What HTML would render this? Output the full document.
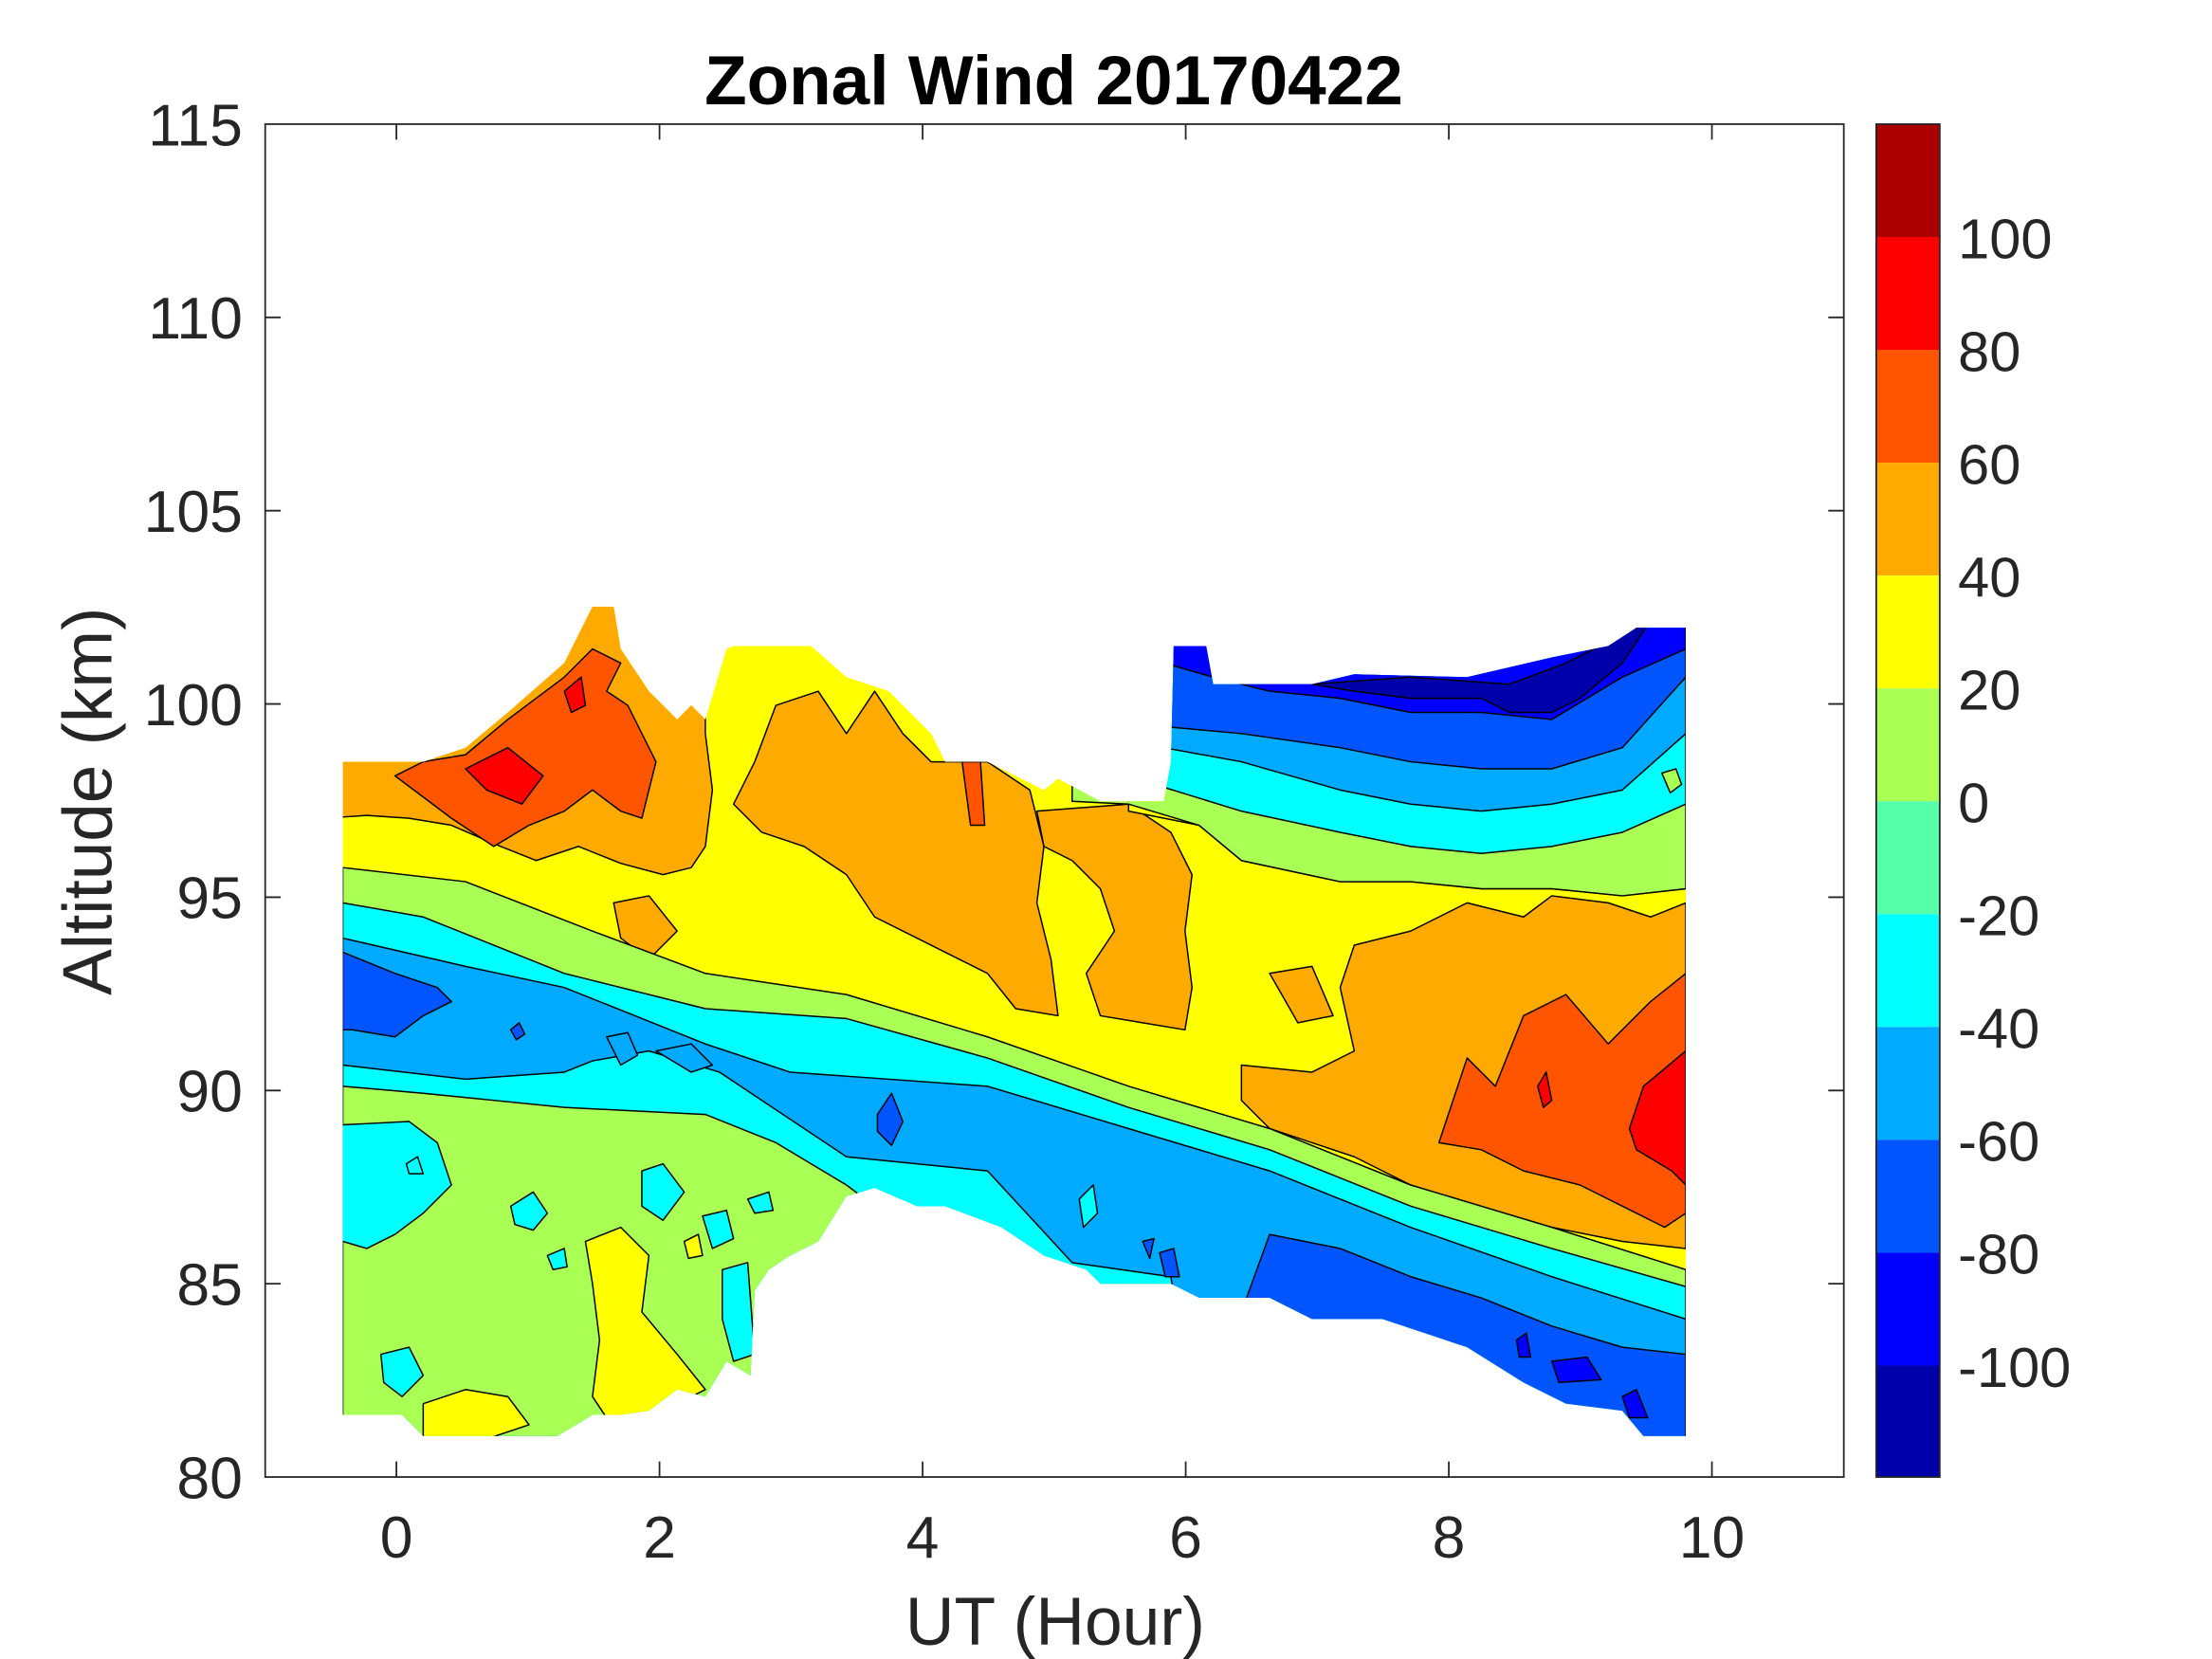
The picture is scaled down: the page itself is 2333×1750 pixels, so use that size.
<!DOCTYPE html>
<html><head><meta charset="utf-8"><style>
html,body{margin:0;padding:0;background:#fff}
svg{display:block}
text{font-family:"Liberation Sans",Arial,sans-serif;fill:#262626}
</style></head><body>
<svg width="2333" height="1750" viewBox="0 0 1568 1176" preserveAspectRatio="none" xmlns="http://www.w3.org/2000/svg">
<defs>
<clipPath id="m"><polygon points="243,540 300,540 330,530 360,505 400,470 420,430 435,430 440,460 460,490 480,510 490,500 500,510 515,460 520,458 575,458 600,480 630,490 660,520 670,540 700,540 740,560 750,552 780,568 825,568 830,540 832,458 855,458 860,485 930,485 960,478 1040,480 1100,466 1140,458 1160,445 1195,445 1195,1018 1165,1018 1150,1000 1110,995 1080,980 1040,955 1010,945 980,935 930,935 900,920 850,920 830,910 780,910 770,900 740,890 710,870 670,855 650,855 620,842 600,848 580,880 560,890 545,900 535,915 532,975 515,965 500,990 480,985 460,1000 440,1003 420,1003 395,1018 330,1018 300,1018 285,1003 243,1003"/></clipPath>
</defs>
<g clip-path="url(#m)" stroke="#000" stroke-width="1" stroke-linejoin="round">
<rect x="200" y="400" width="1050" height="700" fill="#ffff00" stroke="none"/>
<polygon fill="#ffaa00" points="230,400 500,400 500,520 505,560 500,600 490,615 470,620 440,612 410,600 380,610 350,598 320,585 290,580 260,578 230,580"/>
<polygon fill="#ff5500" points="300,540 330,535 360,510 400,480 420,460 440,470 430,490 445,500 465,540 455,580 440,575 420,560 400,575 375,585 350,600 320,580 300,565 280,550"/>
<polygon fill="#ff0000" points="330,545 360,530 385,550 370,570 345,560"/>
<polygon fill="#ff0000" points="400,490 412,480 415,500 405,505"/>
<polygon fill="#ffaa00" points="435,640 460,635 480,660 460,680 440,665"/>
<polygon fill="#ffaa00" points="520,570 535,540 550,500 580,490 600,520 620,490 640,520 660,540 700,540 730,560 740,600 735,640 745,680 750,720 720,715 700,690 680,680 650,665 620,650 600,620 570,600 540,590"/>
<polygon fill="#ff5500" points="682,540 695,540 698,585 688,585"/>
<polygon fill="#ffaa00" points="735,575 800,570 830,590 845,620 840,660 845,700 840,730 810,725 780,720 770,690 790,660 780,630 760,610 740,600"/>
<polygon fill="#ffaa00" points="900,690 930,685 945,720 920,725"/>
<polygon fill="#ffaa00" points="880,755 930,760 960,745 950,700 960,670 1000,660 1040,640 1080,650 1100,635 1140,640 1170,650 1195,640 1195,885 1150,880 1100,870 1060,860 1000,840 960,820 900,800 880,780"/>
<polygon fill="#ff5500" points="1020,810 1040,750 1060,770 1080,720 1110,705 1140,740 1170,710 1195,690 1195,860 1180,870 1150,855 1120,840 1080,830 1050,815"/>
<polygon fill="#ff0000" points="1155,800 1165,770 1195,745 1195,840 1185,830 1160,815"/>
<polygon fill="#ff0000" points="1090,770 1096,760 1100,780 1094,785"/>
<polygon fill="#ffff00" points="800,575 850,585 880,610 950,625 1000,625 1050,630 1100,630 1150,635 1195,630 1195,400 800,400"/>
<polygon fill="#aaff55" points="760,568 800,570 850,585 880,610 950,625 1000,625 1050,630 1100,630 1150,635 1195,630 1195,400 760,400"/>
<polygon fill="#00ffff" points="815,555 880,575 950,590 1000,600 1050,605 1100,600 1150,590 1195,570 1195,400 815,400"/>
<polygon fill="#00aaff" points="825,530 880,540 950,560 1000,570 1050,575 1100,570 1150,560 1195,520 1195,400 825,400"/>
<polygon fill="#0055ff" points="825,515 880,520 950,530 1000,540 1050,545 1100,545 1150,530 1195,480 1195,400 825,400"/>
<polygon fill="#0000ff" points="825,470 860,480 900,490 950,495 1000,505 1050,505 1100,510 1150,480 1195,460 1195,400 825,400"/>
<polygon fill="#0000aa" points="930,485 1000,480 1070,485 1110,470 1140,455 1170,440 1150,470 1120,495 1100,505 1070,505 1050,495 1000,495 960,490"/>
<polygon fill="#aaff55" points="1178,548 1188,545 1192,556 1184,562"/>
<polygon fill="#aaff55" points="243,615 330,625 420,660 500,690 600,705 700,735 800,770 900,800 1000,840 1100,870 1195,900 1195,1100 243,1100"/>
<polygon fill="#00ffff" points="243,640 300,650 400,690 500,715 600,722 700,750 800,785 900,815 1000,855 1100,885 1195,912 1195,1100 243,1100"/>
<polygon fill="#00aaff" points="243,665 330,685 400,700 500,740 560,760 700,770 800,800 900,830 1000,870 1100,905 1195,935 1195,1100 243,1100"/>
<polygon fill="#00ffff" points="243,755 330,765 400,760 420,752 460,745 510,760 600,820 700,830 760,895 830,905 860,1100 243,1100"/>
<polygon fill="#aaff55" points="243,770 300,775 400,785 500,790 550,810 600,840 640,870 700,1100 243,1100"/>
<polygon fill="#0055ff" points="243,675 280,690 310,700 320,710 300,720 280,735 250,730 243,730"/>
<polygon fill="#0055ff" points="362,730 368,725 372,733 366,737"/>
<polygon fill="#0055ff" points="622,790 632,775 640,795 632,812 622,802"/>
<polygon fill="#00aaff" points="430,735 445,732 452,748 440,755"/>
<polygon fill="#00aaff" points="465,745 490,740 505,755 490,760"/>
<polygon fill="#00ffff" points="765,850 775,840 778,860 768,870"/>
<polygon fill="#0055ff" points="900,875 950,885 1000,905 1050,920 1100,940 1150,955 1195,960 1195,1100 880,1100 880,930"/>
<polygon fill="#0000ff" points="1100,965 1125,962 1135,978 1105,980"/>
<polygon fill="#0000ff" points="1150,990 1160,985 1168,1005 1155,1005"/>
<polygon fill="#0000ff" points="1075,950 1082,945 1085,962 1077,962"/>
<polygon fill="#0055ff" points="810,880 818,878 815,892"/>
<polygon fill="#0055ff" points="822,888 832,885 836,905 826,905"/>
<polygon fill="#00ffff" points="230,798 290,795 310,810 320,840 300,860 280,875 260,885 243,880 230,880"/>
<polygon fill="#00ffff" points="362,855 378,845 388,860 378,872 365,868"/>
<polygon fill="#00ffff" points="288,825 296,820 300,832 290,832"/>
<polygon fill="#00ffff" points="270,960 290,955 300,975 285,990 272,980"/>
<polygon fill="#00ffff" points="455,830 470,825 485,845 470,865 455,855"/>
<polygon fill="#00ffff" points="498,862 515,858 520,878 505,885"/>
<polygon fill="#00ffff" points="512,900 530,895 535,960 520,965 512,935"/>
<polygon fill="#00ffff" points="530,850 545,845 548,858 535,860"/>
<polygon fill="#00ffff" points="388,890 400,885 402,898 392,900"/>
<polygon fill="#ffff00" points="415,880 440,870 460,890 455,930 480,960 500,985 470,1000 430,1005 420,990 425,950 420,910"/>
<polygon fill="#ffff00" points="300,995 330,985 360,990 375,1010 330,1025 300,1025"/>
<polygon fill="#ffff00" points="485,880 495,875 498,890 488,892"/>
</g>
<rect x="188" y="88" width="1119" height="959" fill="none" stroke="#262626" stroke-width="1.2"/>
<g stroke="#262626" stroke-width="1.2">
<line x1="281" y1="1047" x2="281" y2="1036"/><line x1="467.5" y1="1047" x2="467.5" y2="1036"/><line x1="654" y1="1047" x2="654" y2="1036"/><line x1="840.5" y1="1047" x2="840.5" y2="1036"/><line x1="1027" y1="1047" x2="1027" y2="1036"/><line x1="1213.5" y1="1047" x2="1213.5" y2="1036"/>
<line x1="281" y1="88" x2="281" y2="99"/><line x1="467.5" y1="88" x2="467.5" y2="99"/><line x1="654" y1="88" x2="654" y2="99"/><line x1="840.5" y1="88" x2="840.5" y2="99"/><line x1="1027" y1="88" x2="1027" y2="99"/><line x1="1213.5" y1="88" x2="1213.5" y2="99"/>
<line x1="188" y1="910" x2="199" y2="910"/><line x1="188" y1="773" x2="199" y2="773"/><line x1="188" y1="636" x2="199" y2="636"/><line x1="188" y1="499" x2="199" y2="499"/><line x1="188" y1="362" x2="199" y2="362"/><line x1="188" y1="225" x2="199" y2="225"/>
<line x1="1307" y1="910" x2="1296" y2="910"/><line x1="1307" y1="773" x2="1296" y2="773"/><line x1="1307" y1="636" x2="1296" y2="636"/><line x1="1307" y1="499" x2="1296" y2="499"/><line x1="1307" y1="362" x2="1296" y2="362"/><line x1="1307" y1="225" x2="1296" y2="225"/>
</g>
<g font-size="42" text-anchor="end">
<text x="172" y="1062">80</text><text x="172" y="925">85</text><text x="172" y="788">90</text><text x="172" y="651">95</text><text x="172" y="514">100</text><text x="172" y="377">105</text><text x="172" y="240">110</text><text x="172" y="103">115</text>
</g>
<g font-size="42" text-anchor="middle">
<text x="281" y="1104">0</text><text x="467.5" y="1104">2</text><text x="654" y="1104">4</text><text x="840.5" y="1104">6</text><text x="1027" y="1104">8</text><text x="1213.5" y="1104">10</text>
</g>
<text x="748" y="1166" font-size="48" text-anchor="middle">UT (Hour)</text>
<text transform="translate(79,568) rotate(-90)" font-size="49" text-anchor="middle">Altitude (km)</text>
<text x="747" y="74" font-size="49" font-weight="bold" text-anchor="middle" style="fill:#000">Zonal Wind 20170422</text>
<g stroke="none">
<rect x="1330" y="88" width="45" height="80" fill="#aa0000"/>
<rect x="1330" y="168" width="45" height="80" fill="#ff0000"/>
<rect x="1330" y="248" width="45" height="80" fill="#ff5500"/>
<rect x="1330" y="328" width="45" height="80" fill="#ffaa00"/>
<rect x="1330" y="408" width="45" height="80" fill="#ffff00"/>
<rect x="1330" y="488" width="45" height="80" fill="#aaff55"/>
<rect x="1330" y="568" width="45" height="80" fill="#55ffaa"/>
<rect x="1330" y="648" width="45" height="80" fill="#00ffff"/>
<rect x="1330" y="728" width="45" height="80" fill="#00aaff"/>
<rect x="1330" y="808" width="45" height="80" fill="#0055ff"/>
<rect x="1330" y="888" width="45" height="80" fill="#0000ff"/>
<rect x="1330" y="968" width="45" height="79" fill="#0000aa"/>
</g>
<rect x="1330" y="88" width="45" height="959" fill="none" stroke="#262626" stroke-width="1.2"/>
<g font-size="40">
<text x="1388" y="183">100</text><text x="1388" y="263">80</text><text x="1388" y="343">60</text><text x="1388" y="423">40</text><text x="1388" y="503">20</text><text x="1388" y="583">0</text><text x="1388" y="663">-20</text><text x="1388" y="743">-40</text><text x="1388" y="823">-60</text><text x="1388" y="903">-80</text><text x="1388" y="983">-100</text>
</g>
</svg>
</body></html>
